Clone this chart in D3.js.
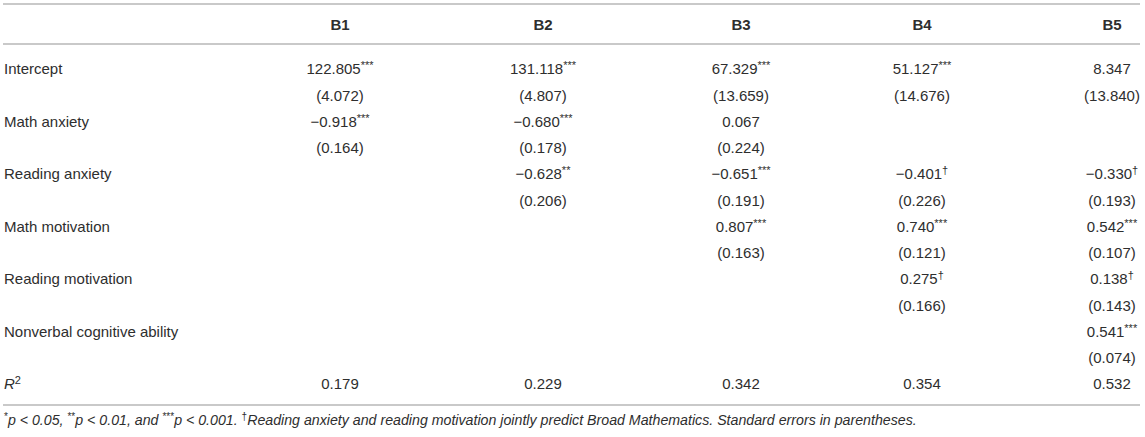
<!DOCTYPE html>
<html>
  <head>
    <meta charset="utf-8">
    <title>Regression table</title>
    <script src="https://cdn.jsdelivr.net/npm/d3@7"></script>
    <style>
      body { margin: 0; background: #fff; }
      .tbl text { font-family: "Liberation Sans", Arial, sans-serif; font-size: 15px; fill: #2e2e2e; }
      .tbl .head { font-weight: bold; }
      .tbl .note { font-size: 14.2px; font-style: italic; }
      .tbl line { stroke: #c9c9c9; stroke-width: 2px; }
    </style>
  </head>
  <body>
    <svg class="tbl"></svg>
    <script>

    // models and predictors
    var models = ["B1", "B2", "B3", "B4", "B5"];
    var predictors = ["Intercept", "Math anxiety", "Reading anxiety", "Math motivation",
                      "Reading motivation", "Nonverbal cognitive ability"];

    // coefficients per model, in predictor order (null = not in model)
    var coefB1 = [122.805, -0.918, null, null, null, null];
    var coefB2 = [131.118, -0.680, -0.628, null, null, null];
    var coefB3 = [67.329, 0.067, -0.651, 0.807, null, null];
    var coefB4 = [51.127, null, -0.401, 0.740, 0.275, null];
    var coefB5 = [8.347, null, -0.330, 0.542, 0.138, 0.541];

    // standard errors
    var seB1 = [4.072, 0.164, null, null, null, null];
    var seB2 = [4.807, 0.178, 0.206, null, null, null];
    var seB3 = [13.659, 0.224, 0.191, 0.163, null, null];
    var seB4 = [14.676, null, 0.226, 0.121, 0.166, null];
    var seB5 = [13.840, null, 0.193, 0.107, 0.143, 0.074];

    // significance marks
    var sigB1 = ["***", "***", "", "", "", ""];
    var sigB2 = ["***", "***", "**", "", "", ""];
    var sigB3 = ["***", "", "***", "***", "", ""];
    var sigB4 = ["***", "", "\u2020", "***", "\u2020", ""];
    var sigB5 = ["", "", "\u2020", "***", "\u2020", "***"];

    var rSquared = [0.179, 0.229, 0.342, 0.354, 0.532];

    var noteParts = [
      ["*", true], ["p < 0.05, ", false], ["**", true], ["p < 0.01, and ", false],
      ["***", true], ["p < 0.001. ", false], ["\u2020", true],
      ["Reading anxiety and reading motivation jointly predict Broad Mathematics. Standard errors in parentheses.", false]
    ];

    var coefs = [coefB1, coefB2, coefB3, coefB4, coefB5];
    var ses = [seB1, seB2, seB3, seB4, seB5];
    var sigs = [sigB1, sigB2, sigB3, sigB4, sigB5];

    var width = 1145, height = 437;
    var fmt = d3.format(".3f");

    var svg = d3.select(".tbl").attr("width", width).attr("height", height);

    // column centres for the model columns
    var x = d3.scaleOrdinal()
      .domain(models)
      .range([340, 543, 741, 922, 1112]);

    // body line keys: coef + se line for each predictor, then R2
    var lineKeys = [];
    predictors.forEach(function(p) { lineKeys.push(p + "|c"); lineKeys.push(p + "|s"); });
    lineKeys.push("R2");

    var y = d3.scalePoint()
      .domain(lineKeys)
      .range([69, 384]);

    // rules
    svg.append("line").attr("x1", 3).attr("x2", 1140).attr("y1", 4).attr("y2", 4);
    svg.append("line").attr("x1", 3).attr("x2", 1140).attr("y1", 44).attr("y2", 44);
    svg.append("line").attr("x1", 3).attr("x2", 1140).attr("y1", 405).attr("y2", 405);

    // header
    svg.selectAll(".head")
      .data(models)
      .enter().append("text")
      .attr("class", "head")
      .attr("x", function(d) { return x(d); })
      .attr("y", 25)
      .attr("dy", ".35em")
      .attr("text-anchor", "middle")
      .text(function(d) { return d; });

    // row labels
    svg.selectAll(".rowlab")
      .data(predictors)
      .enter().append("text")
      .attr("class", "rowlab")
      .attr("x", 4)
      .attr("y", function(d) { return y(d + "|c"); })
      .attr("dy", ".35em")
      .text(function(d) { return d; });

    var r2 = svg.append("text")
      .attr("x", 4)
      .attr("y", y("R2"))
      .attr("dy", ".35em");
    r2.append("tspan").attr("font-style", "italic").text("R");
    r2.append("tspan").attr("font-size", "11px").attr("dy", "-5").text("2");

    // cells
    var cells = [];
    models.forEach(function(m, j) {
      predictors.forEach(function(p, i) {
        if (coefs[j][i] === null) return;
        cells.push({ model: m, key: p + "|c", val: fmt(coefs[j][i]), sig: sigs[j][i] });
        cells.push({ model: m, key: p + "|s", val: "(" + fmt(ses[j][i]) + ")", sig: "" });
      });
      cells.push({ model: m, key: "R2", val: fmt(rSquared[j]), sig: "" });
    });

    var cell = svg.selectAll(".cell")
      .data(cells)
      .enter().append("text")
      .attr("class", "cell")
      .attr("x", function(d) { return x(d.model); })
      .attr("y", function(d) { return y(d.key); })
      .attr("dy", ".35em")
      .attr("text-anchor", "middle");

    cell.append("tspan").text(function(d) { return d.val; });
    cell.filter(function(d) { return d.sig; })
      .append("tspan")
      .attr("font-size", "11px")
      .attr("dy", "-5")
      .text(function(d) { return d.sig; });

    // footnote
    var note = svg.append("text")
      .attr("class", "note")
      .attr("x", 4)
      .attr("y", 425)
      .attr("dy", ".35em");

    var shifted = false;
    noteParts.forEach(function(part) {
      var t = note.append("tspan").text(part[0]);
      if (part[1]) {
        t.attr("font-size", "10px").attr("font-style", "normal").attr("dy", shifted ? 0 : -5);
        shifted = true;
      } else if (shifted) {
        t.attr("dy", 5);
        shifted = false;
      }
    });

    </script>
  </body>
</html>
